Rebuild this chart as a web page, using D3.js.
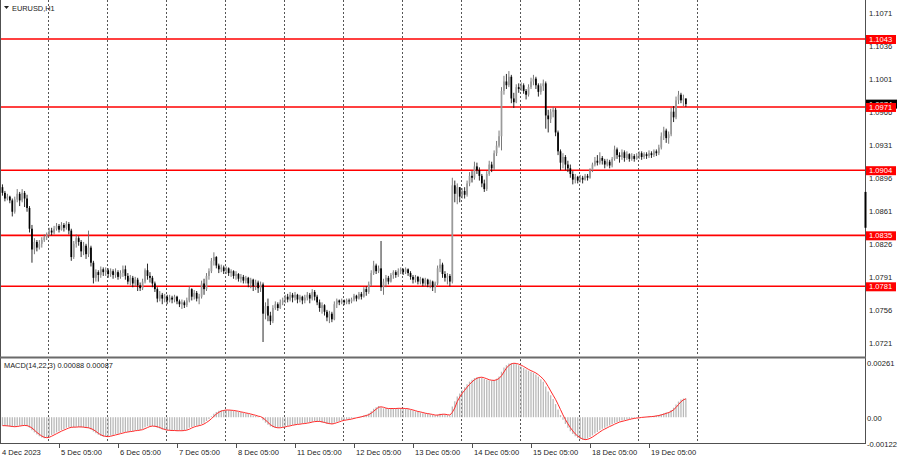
<!DOCTYPE html>
<html><head><meta charset="utf-8">
<script src="https://cdn.jsdelivr.net/npm/d3@7/dist/d3.min.js"></script>
<style>body{margin:0;background:#fff}svg{display:block}</style>
</head><body><svg id="c" width="900" height="460"></svg>
<script>
const symbolTitle = "EURUSD,H1";
const macdTitle = "MACD(14,22,3) 0.00088 0.00087";
const firstBar = 6;            // hours after 4 Dec 2023 00:00
const firstOpen = 1.0886;
const dateLabels = ["4 Dec 2023","5 Dec 05:00","6 Dec 05:00","7 Dec 05:00","8 Dec 05:00","11 Dec 05:00","12 Dec 05:00","13 Dec 05:00","14 Dec 05:00","15 Dec 05:00","18 Dec 05:00","19 Dec 05:00"];
const priceTicks = [1.1071,1.1036,1.1001,1.0966,1.0931,1.0896,1.0861,1.0826,1.0791,1.0756,1.0721];
const levels = [1.1043,1.0971,1.0904,1.0835,1.0781];
const macdTicks = [0.00261,0,-0.00122];
const macdUnit = 0.00001;

const closes = [
1.0880,1.0874,1.0876,1.0872,1.0860,1.0873,1.0879,1.0872,1.0880,1.0874,1.0864,1.0842,1.0820,1.0828,1.0822,1.0826,1.0830,1.0833,
1.0836,1.0840,1.0838,1.0842,1.0845,1.0841,1.0846,1.0843,1.0847,1.0840,1.0812,1.0826,1.0832,1.0828,1.0818,1.0824,1.0815,1.0822,1.0806,1.0790,1.0796,1.0793,1.0799,1.0796,
1.0798,1.0794,1.0797,1.0793,1.0796,1.0791,1.0795,1.0799,1.0792,1.0786,1.0790,1.0784,1.0788,1.0782,1.0779,1.0786,1.0798,1.0792,1.0790,1.0784,1.0778,1.0768,1.0772,1.0768,
1.0770,1.0766,1.0769,1.0767,1.0770,1.0765,1.0762,1.0764,1.0761,1.0766,1.0778,1.0770,1.0774,1.0768,1.0770,1.0784,1.0778,1.0792,1.0797,1.0808,1.0812,1.0803,1.0799,1.0801,
1.0797,1.0800,1.0795,1.0797,1.0792,1.0794,1.0789,1.0791,1.0787,1.0790,1.0784,1.0788,1.0781,1.0785,1.0779,1.0783,1.0752,1.0760,1.0750,1.0744,1.0758,1.0762,1.0758,1.0764,
1.0766,1.0770,1.0767,1.0772,1.0769,1.0772,1.0767,1.0770,1.0766,1.0769,1.0772,1.0768,1.0775,1.0770,1.0764,1.0758,1.0761,1.0754,1.0748,1.0752,1.0746,1.0762,1.0766,1.0764,
1.0766,1.0764,1.0766,1.0765,1.0767,1.0771,1.0768,1.0773,1.0770,1.0778,1.0775,1.0783,1.0795,1.0803,1.0797,1.0800,1.0780,1.0786,1.0790,1.0786,1.0793,1.0796,1.0793,1.0797,
1.0799,1.0796,1.0799,1.0795,1.0791,1.0788,1.0791,1.0786,1.0789,1.0784,1.0788,1.0783,1.0786,1.0780,1.0784,1.0800,1.0804,1.0794,1.0790,1.0792,1.0786,1.0888,1.0879,1.0886,
1.0876,1.0882,1.0878,1.0890,1.0898,1.0896,1.0908,1.0904,1.0898,1.0890,1.0884,1.0900,1.0910,1.0906,1.0922,1.0930,1.0940,1.0988,1.0998,1.0994,1.1003,1.0980,1.0976,1.0992,
1.0990,1.0994,1.0988,1.0984,1.0992,1.0998,1.1001,1.0994,1.0987,1.0993,1.0996,1.0962,1.0958,1.0966,1.0968,1.0944,1.0924,1.0912,1.0918,1.0910,1.0906,1.0900,1.0894,1.0897,
1.0893,1.0896,1.0894,1.0898,1.0896,1.0904,1.0910,1.0914,1.0912,1.0917,1.0914,1.0910,1.0913,1.0909,1.0916,1.0926,1.0920,1.0918,1.0923,1.0917,1.0921,1.0916,1.0919,1.0916,
1.0919,1.0922,1.0918,1.0921,1.0919,1.0922,1.0920,1.0924,1.0922,1.0928,1.0940,1.0946,1.0938,1.0942,1.0966,1.0960,1.0978,1.0984,1.0978,1.0980,1.0974];
const highs = [
1.0889,1.0882,1.0879,1.0877,1.0874,1.0876,1.0884,1.0881,1.0884,1.0882,1.0878,1.0866,1.0846,1.0832,1.0830,1.0830,1.0833,1.0836,
1.0838,1.0843,1.0843,1.0845,1.0848,1.0847,1.0849,1.0848,1.0850,1.0849,1.0842,1.0829,1.0836,1.0834,1.0830,1.0828,1.0826,1.0840,1.0824,1.0808,1.0799,1.0798,1.0802,1.0801,
1.0801,1.0800,1.0800,1.0799,1.0800,1.0798,1.0798,1.0803,1.0803,1.0795,1.0793,1.0792,1.0791,1.0790,1.0785,1.0789,1.0800,1.0805,1.0796,1.0792,1.0786,1.0780,1.0776,1.0774,
1.0773,1.0772,1.0772,1.0771,1.0772,1.0771,1.0767,1.0767,1.0766,1.0769,1.0781,1.0779,1.0777,1.0776,1.0773,1.0787,1.0789,1.0795,1.0800,1.0811,1.0817,1.0813,1.0805,1.0804,
1.0803,1.0802,1.0801,1.0799,1.0798,1.0797,1.0795,1.0794,1.0793,1.0792,1.0791,1.0790,1.0789,1.0788,1.0787,1.0786,1.0785,1.0764,1.0768,1.0754,1.0761,1.0765,1.0764,1.0767,
1.0769,1.0772,1.0773,1.0775,1.0774,1.0775,1.0773,1.0772,1.0771,1.0772,1.0775,1.0774,1.0778,1.0777,1.0772,1.0767,1.0764,1.0762,1.0756,1.0755,1.0754,1.0765,1.0768,1.0767,
1.0768,1.0767,1.0768,1.0768,1.0769,1.0773,1.0772,1.0775,1.0775,1.0780,1.0781,1.0786,1.0798,1.0808,1.0805,1.0803,1.0829,1.0789,1.0793,1.0792,1.0795,1.0798,1.0798,1.0800,
1.0801,1.0800,1.0801,1.0800,1.0797,1.0793,1.0793,1.0792,1.0791,1.0790,1.0790,1.0789,1.0788,1.0787,1.0786,1.0803,1.0810,1.0806,1.0797,1.0795,1.0794,1.0896,1.0893,1.0890,
1.0882,1.0885,1.0886,1.0893,1.0902,1.0903,1.0913,1.0912,1.0907,1.0900,1.0894,1.0903,1.0914,1.0913,1.0925,1.0935,1.0946,1.0992,1.1004,1.1006,1.1009,1.1005,1.0986,1.0995,
1.0996,1.0997,1.0996,1.0990,1.0995,1.1002,1.1005,1.1003,1.0996,1.0996,1.1000,1.0998,1.0968,1.0969,1.0971,1.0970,1.0946,1.0926,1.0922,1.0920,1.0914,1.0910,1.0903,1.0900,
1.0898,1.0899,1.0898,1.0900,1.0900,1.0906,1.0912,1.0918,1.0920,1.0923,1.0919,1.0916,1.0916,1.0915,1.0918,1.0930,1.0928,1.0923,1.0926,1.0925,1.0924,1.0922,1.0922,1.0921,
1.0922,1.0924,1.0924,1.0923,1.0923,1.0925,1.0924,1.0926,1.0926,1.0931,1.0944,1.0950,1.0948,1.0945,1.0970,1.0972,1.0982,1.0988,1.0986,1.0984,1.0980];
const lows = [
1.0877,1.0871,1.0872,1.0869,1.0855,1.0858,1.0870,1.0866,1.0870,1.0865,1.0860,1.0838,1.0806,1.0815,1.0818,1.0820,1.0822,1.0828,
1.0830,1.0834,1.0835,1.0836,1.0840,1.0838,1.0840,1.0839,1.0841,1.0836,1.0808,1.0810,1.0822,1.0824,1.0812,1.0814,1.0810,1.0812,1.0802,1.0784,1.0786,1.0786,1.0790,1.0792,
1.0792,1.0790,1.0791,1.0789,1.0790,1.0788,1.0789,1.0791,1.0788,1.0783,1.0782,1.0780,1.0781,1.0776,1.0776,1.0777,1.0784,1.0788,1.0785,1.0780,1.0775,1.0764,1.0765,1.0762,
1.0764,1.0762,1.0764,1.0763,1.0764,1.0762,1.0759,1.0757,1.0758,1.0759,1.0764,1.0766,1.0767,1.0765,1.0762,1.0768,1.0772,1.0776,1.0788,1.0795,1.0803,1.0800,1.0795,1.0796,
1.0794,1.0794,1.0792,1.0791,1.0789,1.0788,1.0786,1.0785,1.0784,1.0784,1.0780,1.0779,1.0776,1.0777,1.0774,1.0775,1.0722,1.0746,1.0744,1.0740,1.0742,1.0756,1.0755,1.0757,
1.0761,1.0763,1.0764,1.0765,1.0764,1.0766,1.0763,1.0764,1.0762,1.0763,1.0766,1.0763,1.0766,1.0766,1.0761,1.0754,1.0752,1.0750,1.0744,1.0742,1.0743,1.0745,1.0758,1.0761,
1.0762,1.0761,1.0762,1.0762,1.0763,1.0765,1.0765,1.0767,1.0767,1.0769,1.0771,1.0773,1.0781,1.0793,1.0794,1.0795,1.0776,1.0772,1.0780,1.0783,1.0785,1.0789,1.0790,1.0791,
1.0794,1.0793,1.0794,1.0792,1.0788,1.0784,1.0785,1.0783,1.0783,1.0781,1.0781,1.0780,1.0779,1.0776,1.0774,1.0782,1.0796,1.0790,1.0786,1.0783,1.0781,1.0784,1.0870,1.0868,
1.0870,1.0874,1.0874,1.0876,1.0887,1.0891,1.0894,1.0900,1.0893,1.0886,1.0881,1.0882,1.0898,1.0902,1.0904,1.0919,1.0928,1.0925,1.0984,1.0990,1.0992,1.0975,1.0970,1.0975,
1.0986,1.0988,1.0985,1.0979,1.0982,1.0990,1.0994,1.0990,1.0982,1.0984,1.0988,1.0948,1.0944,1.0954,1.0960,1.0940,1.0920,1.0904,1.0906,1.0904,1.0902,1.0896,1.0889,1.0890,
1.0890,1.0891,1.0890,1.0893,1.0893,1.0895,1.0902,1.0908,1.0909,1.0910,1.0910,1.0906,1.0908,1.0906,1.0907,1.0914,1.0916,1.0912,1.0915,1.0913,1.0915,1.0913,1.0914,1.0913,
1.0915,1.0916,1.0915,1.0916,1.0916,1.0917,1.0917,1.0918,1.0919,1.0920,1.0926,1.0936,1.0933,1.0932,1.0940,1.0955,1.0958,1.0974,1.0975,1.0972,1.0971];
// MACD main line and signal, in units of 0.00001
const macdMain = [
-40,-41,-42,-44,-46,-44,-41,-40,-38,-39,-42,-50,-62,-72,-82,-90,-96,-99,
-96,-90,-84,-78,-72,-66,-61,-56,-50,-46,-48,-47,-45,-46,-48,-48,-51,-52,-58,-68,-76,-83,-89,-93,
-92,-90,-87,-84,-80,-78,-75,-71,-70,-69,-66,-65,-62,-62,-60,-55,-48,-43,-42,-42,-44,-50,-54,-58,
-61,-63,-63,-64,-63,-64,-64,-63,-62,-58,-50,-46,-42,-40,-38,-32,-26,-18,-8,4,16,24,30,33,
34,34,33,32,30,28,25,23,20,18,15,12,8,6,2,0,-14,-26,-36,-44,-48,-51,-50,-48,
-46,-43,-41,-38,-36,-34,-33,-31,-30,-28,-25,-24,-21,-19,-20,-22,-25,-27,-31,-33,-32,-26,-21,-18,
-15,-13,-11,-9,-6,-3,-1,2,4,8,11,17,28,40,47,53,46,42,42,40,41,42,41,42,
42,41,40,38,34,30,28,24,22,19,17,15,13,10,8,12,16,15,12,10,8,50,75,98,
112,128,142,156,168,177,185,189,190,187,181,177,174,173,176,182,192,215,235,246,254,256,255,252,
246,240,233,225,220,215,210,202,192,180,168,145,122,104,86,62,36,10,-12,-32,-50,-66,-80,-90,
-98,-104,-107,-106,-101,-94,-86,-77,-70,-62,-55,-50,-44,-39,-33,-27,-23,-20,-16,-14,-11,-8,-6,-4,
-3,-1,0,1,2,3,4,6,8,10,14,19,22,25,34,45,60,74,84,88,88];
const macdSignal = [
-40,-40,-41,-42,-44,-45,-44,-42,-40,-39,-40,-44,-51,-61,-72,-81,-89,-95,
-97,-95,-90,-84,-78,-72,-66,-61,-56,-51,-48,-47,-47,-46,-46,-47,-49,-50,-54,-59,-67,-76,-83,-88,
-91,-92,-90,-87,-84,-81,-78,-75,-72,-70,-68,-67,-64,-63,-61,-59,-54,-49,-44,-42,-43,-45,-49,-54,
-58,-61,-62,-63,-63,-64,-64,-64,-63,-61,-57,-51,-46,-43,-40,-37,-32,-25,-17,-7,4,15,23,29,
32,34,34,33,32,30,28,25,23,20,18,15,12,9,5,3,-4,-13,-25,-35,-43,-48,-50,-50,
-48,-46,-43,-41,-38,-36,-34,-33,-31,-30,-28,-26,-23,-21,-20,-20,-22,-25,-28,-30,-32,-30,-26,-22,
-18,-15,-13,-11,-9,-6,-3,-1,2,5,8,12,19,28,38,47,49,47,43,41,41,41,41,42,
42,42,41,40,37,34,31,27,25,22,19,17,15,13,10,10,12,14,14,12,10,23,44,74,
95,113,127,142,155,167,177,184,188,189,186,182,177,175,174,177,183,196,214,232,245,252,255,254,
251,246,240,233,226,220,215,209,201,191,180,164,145,124,104,84,61,36,11,-11,-31,-49,-65,-79,
-89,-97,-103,-106,-105,-100,-94,-86,-78,-70,-62,-56,-50,-44,-39,-33,-28,-23,-20,-17,-14,-11,-8,-6,
-4,-3,-1,0,1,2,3,4,6,8,11,14,18,22,27,35,46,60,73,82,87];

const FONT = "'Liberation Sans', Arial, sans-serif";
const svg = d3.select("#c");
const W = 900, H = 460, plotR = 865, mainB = 357, macdT = 358, macdB = 443;

const x = d3.scaleLinear().domain([5, 29]).range([0, 59]);
const y = d3.scaleLinear().domain([1.1043, 1.0781]).range([39, 286.3]);
const ym = d3.scaleLinear().domain([0.00261, -0.00122]).range([362, 443]);

const defs = svg.append("defs");
defs.append("clipPath").attr("id","cm").append("rect").attr("x",1).attr("y",0).attr("width",plotR-1).attr("height",mainB);
defs.append("clipPath").attr("id","cd").append("rect").attr("x",1).attr("y",macdT).attr("width",plotR-1).attr("height",macdB-macdT);

svg.append("rect").attr("width",W).attr("height",H).attr("fill","#fff");

// vertical dashed grid at day boundaries
const gridBars = d3.range(1, 13).map(k => 24*k + 0.5);
const gg = svg.append("g").attr("stroke","#555").attr("stroke-width",1).attr("stroke-dasharray","2,2");
gridBars.forEach(b => {
  const gx = Math.round(x(b)) + 0.5;
  gg.append("line").attr("x1",gx).attr("x2",gx).attr("y1",0).attr("y2",mainB-1);
  gg.append("line").attr("x1",gx).attr("x2",gx).attr("y1",macdT+1).attr("y2",macdB);
});

// horizontal levels
const gm = svg.append("g").attr("clip-path","url(#cm)");
gm.selectAll("line.lvl").data(levels).join("line").attr("class","lvl")
  .attr("x1",1).attr("x2",plotR).attr("y1",d=>y(d)).attr("y2",d=>y(d))
  .attr("stroke","#ff0000").attr("stroke-width",1.6);

// candles
const candles = closes.map((c,i) => {
  const o = i === 0 ? firstOpen : closes[i-1];
  return {b: firstBar + i, o, c, h: Math.max(highs[i], o, c), l: Math.min(lows[i], o, c)};
});
gm.selectAll("line.wick").data(candles).join("line").attr("class","wick")
  .attr("x1",d=>x(d.b)).attr("x2",d=>x(d.b)).attr("y1",d=>y(d.h)).attr("y2",d=>y(d.l))
  .attr("stroke",d=>d.c>=d.o?"#6a6a6a":"#111").attr("stroke-width",0.9);
gm.selectAll("rect.body").data(candles).join("rect").attr("class","body")
  .attr("x",d=>x(d.b)-0.85).attr("width",1.7)
  .attr("y",d=>y(Math.max(d.o,d.c))).attr("height",d=>Math.max(0.8, Math.abs(y(d.o)-y(d.c))))
  .attr("fill",d=>d.c>=d.o?"#9a9a9a":"#000");

// MACD
const gd = svg.append("g").attr("clip-path","url(#cd)");
gd.selectAll("line.hist").data(macdMain).join("line").attr("class","hist")
  .attr("x1",(d,i)=>x(firstBar+i)).attr("x2",(d,i)=>x(firstBar+i))
  .attr("y1",ym(0)).attr("y2",d=>ym(d*macdUnit))
  .attr("stroke","#b9b9b9").attr("stroke-width",1.3);
gd.append("path").datum(macdSignal)
  .attr("d", d3.line().x((d,i)=>x(firstBar+i)).y(d=>ym(d*macdUnit)))
  .attr("fill","none").attr("stroke","#ff2a2a").attr("stroke-width",1);

// frame
const fr = svg.append("g").attr("stroke","#505050").attr("fill","none");
fr.append("line").attr("x1",0.5).attr("x2",0.5).attr("y1",0).attr("y2",macdB+0.5);
fr.append("line").attr("x1",plotR+0.5).attr("x2",plotR+0.5).attr("y1",0).attr("y2",macdB+0.5);
fr.append("line").attr("x1",0).attr("x2",plotR+1).attr("y1",mainB+0.5).attr("y2",mainB+0.5).attr("stroke","#6a6a6a").attr("stroke-width",2);
fr.append("line").attr("x1",0).attr("x2",plotR+1).attr("y1",macdB+0.5).attr("y2",macdB+0.5);
// scroll marker on price scale edge
svg.append("line").attr("x1",plotR+0.5).attr("x2",plotR+0.5).attr("y1",y(1.0881)).attr("y2",y(1.0843))
  .attr("stroke","#000").attr("stroke-width",2);

// price axis labels
const tx = svg.append("g").attr("font-family",FONT).attr("font-size","7.6px").attr("fill","#222");
tx.selectAll("text.pt").data(priceTicks).join("text").attr("class","pt")
  .attr("x",869).attr("y",d=>y(d)+1).attr("dominant-baseline","central").text(d=>d.toFixed(4));
tx.selectAll("text.mt").data(macdTicks).join("text").attr("class","mt")
  .attr("x",867).attr("y",d=>ym(d)+1).attr("dominant-baseline","central")
  .text(d=>d===0?"0.00":d.toFixed(5));

// current price label
const cur = closes[closes.length-1];
svg.append("rect").attr("x",866).attr("y",y(cur)-4.5).attr("width",31).attr("height",9).attr("fill","#000");
svg.append("text").attr("x",869).attr("y",y(cur)).attr("dominant-baseline","central")
  .attr("font-family",FONT).attr("font-size","7.6px").attr("fill","#fff").text(cur.toFixed(4));
// level labels
const lg = svg.append("g");
levels.forEach(v => {
  lg.append("rect").attr("x",866).attr("y",y(v)-4).attr("width",30).attr("height",9).attr("fill","#ff0000");
  lg.append("text").attr("x",869).attr("y",y(v)+0.5).attr("dominant-baseline","central")
    .attr("font-family",FONT).attr("font-size","7.6px").attr("fill","#fff").text(v.toFixed(4));
});

// time axis
const ta = svg.append("g").attr("font-family",FONT).attr("font-size","7.6px").attr("fill","#222");
dateLabels.forEach((t,k) => {
  const bx = x(24*k + 5);
  if (k > 0) svg.append("line").attr("x1",Math.round(bx)+0.5).attr("x2",Math.round(bx)+0.5)
    .attr("y1",macdB+1).attr("y2",macdB+5).attr("stroke","#505050");
  ta.append("text").attr("x",k===0?2:bx+2).attr("y",452).attr("dominant-baseline","central").text(t);
});

// titles
svg.append("path").attr("d","M4,6 L9,6 L6.5,9 Z").attr("fill","#222");
svg.append("text").attr("x",12).attr("y",8).attr("dominant-baseline","central")
  .attr("font-family",FONT).attr("font-size","7.4px").attr("fill","#222").text(symbolTitle);
svg.append("text").attr("x",4).attr("y",365).attr("dominant-baseline","central")
  .attr("font-family",FONT).attr("font-size","7.4px").attr("fill","#222").text(macdTitle);
</script></body></html>
